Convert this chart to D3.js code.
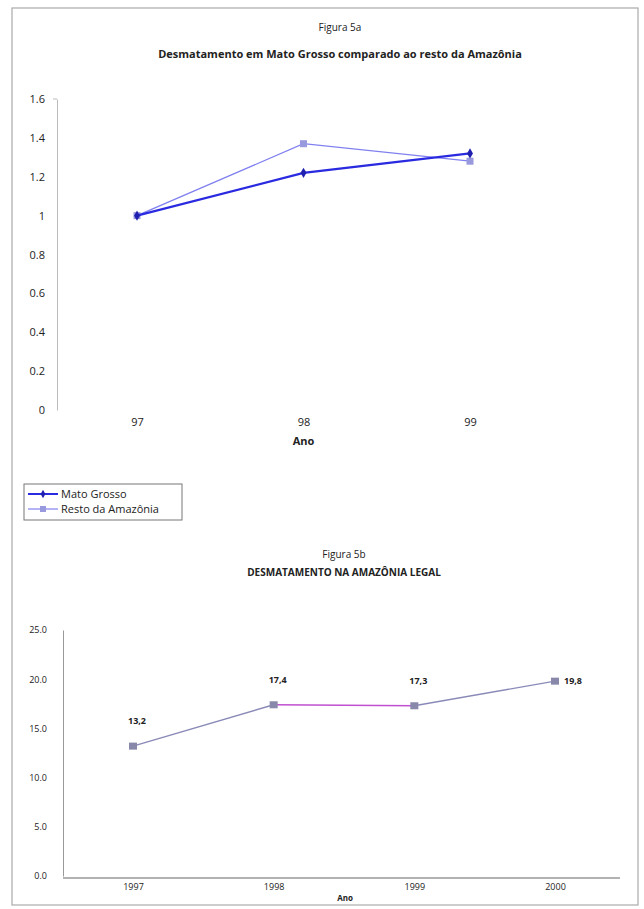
<!DOCTYPE html>
<html><head><meta charset="utf-8">
<script src="https://cdn.jsdelivr.net/npm/d3@7"></script>
<style>
body{margin:0;background:#fff;}
text{font-family:"Open Sans","DejaVu Sans",sans-serif;fill:#222;}
</style></head>
<body><svg id="c" width="644" height="909"></svg>
<script>
// Figure 5a data
const years5a = ["97","98","99"];
const matoGrosso = [1.0, 1.22, 1.32];
const restoAmazonia = [1.0, 1.37, 1.28];
const ticks5a = [0,0.2,0.4,0.6,0.8,1,1.2,1.4,1.6];
// Figure 5b data
const years5b = ["1997","1998","1999","2000"];
const desmatamento = [13.2, 17.4, 17.3, 19.8];
const labels5b = ["13,2","17,4","17,3","19,8"];
const ticks5b = [0,5,10,15,20,25];

const svg = d3.select("#c");
// frame
svg.append("rect").attr("x",12).attr("y",8).attr("width",626).attr("height",897)
  .attr("fill","none").attr("stroke","#aaa").attr("stroke-width",1.2);

// ---------- Figure 5a ----------
svg.append("text").attr("x",340).attr("y",31).attr("text-anchor","middle")
  .style("font-size","10px").text("Figura 5a");
svg.append("text").attr("x",340).attr("y",58).attr("text-anchor","middle")
  .style("font-size","11px").style("font-weight","bold")
  .text("Desmatamento em Mato Grosso comparado ao resto da Amazônia");

const xA = d3.scalePoint().domain(years5a).range([137,470]);
const yA = d3.scaleLinear().domain([0,1.6]).range([410,99]);

const gyA = svg.append("g").attr("transform","translate(57,0)")
  .call(d3.axisLeft(yA).tickValues(ticks5a).tickSize(0).tickPadding(12)
    .tickFormat(d=>String(d)));
gyA.select(".domain").attr("stroke","#bbb");
gyA.selectAll("text").style("font-size","11px").attr("fill","#222");
gyA.append("line").attr("x1",-4).attr("x2",0).attr("y1",yA(1.6)).attr("y2",yA(1.6)).attr("stroke","#bbb");

const gxA = svg.append("g").attr("transform","translate(0,410)")
  .call(d3.axisBottom(xA).tickSize(0).tickPadding(8));
gxA.select(".domain").remove();
gxA.selectAll("text").style("font-size","11px").attr("fill","#222");
svg.append("text").attr("x",xA("98")).attr("y",445).attr("text-anchor","middle")
  .style("font-size","11px").style("font-weight","bold").text("Ano");

const lineA = d3.line().x((d,i)=>xA(years5a[i])).y(d=>yA(d));
svg.append("path").datum(restoAmazonia).attr("d",lineA).attr("fill","none")
  .attr("stroke","#8080f0").attr("stroke-width",1.3);
svg.selectAll(".rA").data(restoAmazonia).join("rect")
  .attr("x",(d,i)=>xA(years5a[i])-3.5).attr("y",d=>yA(d)-3.5)
  .attr("width",7).attr("height",7).attr("fill","#9999dd");
svg.append("path").datum(matoGrosso).attr("d",lineA).attr("fill","none")
  .attr("stroke","#2a2ae0").attr("stroke-width",2.2);
svg.selectAll(".mA").data(matoGrosso).join("path")
  .attr("transform",(d,i)=>`translate(${xA(years5a[i])},${yA(d)})`)
  .attr("d",d3.symbol(d3.symbolDiamond,30)).attr("fill","#2020b0");

// legend
const lg = svg.append("g");
lg.append("rect").attr("x",24).attr("y",484).attr("width",158).attr("height",36)
  .attr("fill","#fff").attr("stroke","#777");
lg.append("line").attr("x1",28).attr("x2",58).attr("y1",494).attr("y2",494)
  .attr("stroke","#2a2ae0").attr("stroke-width",2);
lg.append("path").attr("transform","translate(43,494)").attr("d",d3.symbol(d3.symbolDiamond,20)).attr("fill","#2020b0");
lg.append("text").attr("x",61).attr("y",498).style("font-size","11px").attr("fill","#555").text("Mato Grosso");
lg.append("line").attr("x1",28).attr("x2",58).attr("y1",509).attr("y2",509)
  .attr("stroke","#8080f0").attr("stroke-width",1.2);
lg.append("rect").attr("x",40).attr("y",506).attr("width",6).attr("height",6).attr("fill","#9999dd");
lg.append("text").attr("x",61).attr("y",513).style("font-size","11px").attr("fill","#555").text("Resto da Amazônia");

// ---------- Figure 5b ----------
svg.append("text").attr("x",344).attr("y",558).attr("text-anchor","middle")
  .style("font-size","10px").text("Figura 5b");
svg.append("text").attr("x",344).attr("y",576).attr("text-anchor","middle")
  .style("font-size","10px").style("font-weight","bold")
  .text("DESMATAMENTO NA AMAZÔNIA LEGAL");

const xB = d3.scalePoint().domain(years5b).range([133,555]);
const yB = d3.scaleLinear().domain([0,25]).range([876,630]);

const gyB = svg.append("g").attr("transform","translate(63,0)")
  .call(d3.axisLeft(yB).tickValues(ticks5b).tickSize(0).tickPadding(16)
    .tickFormat(d3.format(".1f")));
gyB.select(".domain").attr("stroke","#999");
gyB.selectAll("text").style("font-size","9px").attr("fill","#333");

const gxB = svg.append("g").attr("transform","translate(0,878)")
  .call(d3.axisBottom(xB).tickSize(0).tickPadding(6));
gxB.select(".domain").attr("d","M63,0H620").attr("stroke","#999").attr("stroke-width",1.5);
gxB.selectAll("text").style("font-size","9px").attr("fill","#333");
svg.append("text").attr("x",345).attr("y",901).attr("text-anchor","middle")
  .style("font-size","8px").style("font-weight","bold").text("Ano");

const pts = desmatamento.map((d,i)=>[xB(years5b[i]),yB(d)]);
const segColors = ["#8a8ab8","#c050d0","#8a8ab8"];
for(let i=0;i<pts.length-1;i++){
  svg.append("line").attr("x1",pts[i][0]).attr("y1",pts[i][1])
    .attr("x2",pts[i+1][0]).attr("y2",pts[i+1][1])
    .attr("stroke",segColors[i]).attr("stroke-width",1.4);
}
svg.selectAll(".mB").data(desmatamento).join("rect")
  .attr("x",(d,i)=>xB(years5b[i])-4).attr("y",d=>yB(d)-3.5)
  .attr("width",8).attr("height",7).attr("fill","#8888aa");
svg.selectAll(".lB").data(labels5b).join("text")
  .attr("x",(d,i)=>xB(years5b[i]) + (i===3?18:4))
  .attr("y",(d,i)=>yB(desmatamento[i]) - (i===3?-3:22))
  .attr("text-anchor","middle")
  .style("font-size","9px").style("font-weight","bold").attr("fill","#111")
  .text(d=>d);
</script></body></html>
